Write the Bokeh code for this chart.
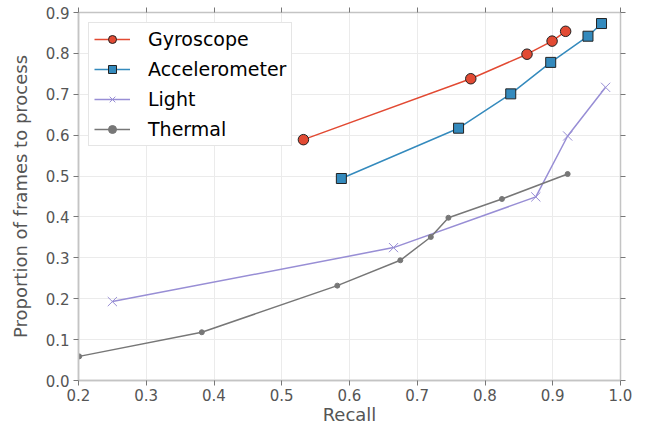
from bokeh.plotting import figure
from bokeh.models import LinearAxis, Range1d, FixedTicker, Legend, PrintfTickFormatter
from bokeh.embed import file_html
from bokeh.resources import INLINE

gyro_x = [0.532, 0.779, 0.862, 0.899, 0.919]
gyro_y = [0.589, 0.738, 0.798, 0.830, 0.854]
acc_x = [0.588, 0.761, 0.838, 0.897, 0.952, 0.972]
acc_y = [0.494, 0.617, 0.701, 0.778, 0.842, 0.873]
light_x = [0.250, 0.665, 0.875, 0.922, 0.978]
light_y = [0.193, 0.325, 0.449, 0.598, 0.717]
therm_x = [0.201, 0.382, 0.582, 0.675, 0.720, 0.746, 0.825, 0.922]
therm_y = [0.059, 0.118, 0.232, 0.294, 0.351, 0.398, 0.444, 0.505]

x_ticks = [0.2, 0.3, 0.4, 0.5, 0.6, 0.7, 0.8, 0.9, 1.0]
y_ticks = [0.0, 0.1, 0.2, 0.3, 0.4, 0.5, 0.6, 0.7, 0.8, 0.9]

FONT = "DejaVu Sans"
TXT = "#555555"
FRAME = "#c4c4c4"

p = figure(width=638, height=427, output_backend="svg", toolbar_location=None,
           x_range=Range1d(0.2, 1.0), y_range=Range1d(0.0, 0.9),
           min_border_left=78, min_border_right=18, min_border_top=12, min_border_bottom=43)
p.background_fill_color = "white"
p.border_fill_color = "white"
p.outline_line_color = FRAME
p.outline_line_width = 1.5

for ax in p.xaxis + p.yaxis:
    ax.axis_line_color = FRAME
    ax.axis_line_width = 1.5
    ax.major_tick_line_color = "#777777"
    ax.major_tick_out = 5
    ax.major_tick_in = 0
    ax.minor_tick_line_color = None
    ax.major_label_text_font = FONT
    ax.major_label_text_font_size = "15px"
    ax.major_label_text_color = TXT
    ax.axis_label_text_font = FONT
    ax.axis_label_text_font_size = "18px"
    ax.axis_label_text_font_style = "normal"
    ax.axis_label_text_color = TXT
    ax.formatter = PrintfTickFormatter(format="%.1f")

p.xaxis.ticker = FixedTicker(ticks=x_ticks)
p.yaxis.ticker = FixedTicker(ticks=y_ticks)
p.xaxis.axis_label = "Recall"
p.yaxis.axis_label = "Proportion of frames to process"
p.xaxis.major_label_standoff = 3
p.yaxis.major_label_standoff = 4
p.xaxis.axis_label_standoff = 0
p.yaxis.axis_label_standoff = 12

top = LinearAxis(ticker=FixedTicker(ticks=x_ticks),
                 major_label_overrides={t: "" for t in x_ticks},
                 axis_line_color=FRAME, major_tick_line_color="#777777", major_tick_out=5,
                 major_tick_in=0, minor_tick_line_color=None, major_label_standoff=0)
right = LinearAxis(ticker=FixedTicker(ticks=y_ticks),
                   major_label_overrides={t: "" for t in y_ticks},
                   axis_line_color=FRAME, major_tick_line_color="#777777", major_tick_out=5,
                   major_tick_in=0, minor_tick_line_color=None, major_label_standoff=0)
p.add_layout(top, "above")
p.add_layout(right, "right")

p.xgrid.ticker = FixedTicker(ticks=x_ticks)
p.ygrid.ticker = FixedTicker(ticks=y_ticks)
p.grid.grid_line_color = "#ebebeb"
p.grid.grid_line_width = 1

RED, BLUE, PURPLE, GRAY = "#E24A33", "#348ABD", "#988ED5", "#777777"

r1 = p.line(gyro_x, gyro_y, line_color=RED, line_width=1.5)
s1 = p.scatter(gyro_x, gyro_y, marker="circle", size=10.5, fill_color=RED,
               line_color="#222222", line_width=1)
r2 = p.line(acc_x, acc_y, line_color=BLUE, line_width=1.5)
s2 = p.scatter(acc_x, acc_y, marker="square", size=10, fill_color=BLUE,
               line_color="#222222", line_width=1)
r3 = p.line(light_x, light_y, line_color=PURPLE, line_width=1.5)
s3 = p.scatter(light_x, light_y, marker="x", size=13, line_color=PURPLE, line_width=1)
r4 = p.line(therm_x, therm_y, line_color=GRAY, line_width=1.5)
s4 = p.scatter(therm_x, therm_y, marker="circle", size=5, fill_color=GRAY, line_color=GRAY)

legend = Legend(items=[("Gyroscope", [r1, s1]), ("Accelerometer", [r2, s2]),
                       ("Light", [r3, s3]), ("Thermal", [r4, s4])],
                location="top_left")
legend.label_text_font = FONT
legend.label_text_font_size = "19px"
legend.label_text_color = "black"
legend.border_line_color = "#cccccc"
legend.border_line_width = 1
legend.background_fill_color = "white"
legend.background_fill_alpha = 1.0
legend.glyph_width = 36
legend.glyph_height = 20
legend.label_height = 20
legend.label_standoff = 18
legend.spacing = 8
legend.padding = 5
legend.margin = 10
p.add_layout(legend)

open("out.html", "w").write(file_html(p, INLINE))
